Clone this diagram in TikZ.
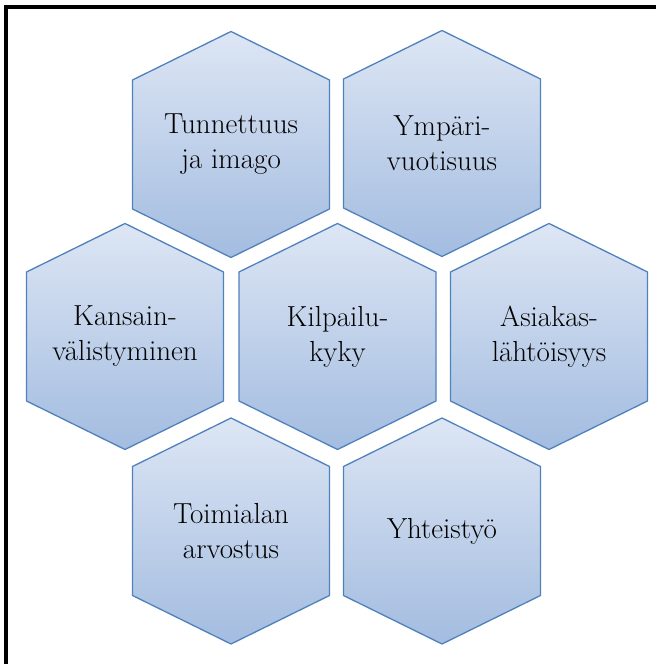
\documentclass[tikz,border=0pt]{standalone}
\usepackage{fontspec}
\definecolor{hexTop}{HTML}{DDE6F4}
\definecolor{hexBot}{HTML}{A3BCE0}
\definecolor{hexLine}{HTML}{4F81BD}
\tikzset{
  hexshape/.style={top color=hexTop, bottom color=hexBot, draw=hexLine, line width=1.3pt, line join=miter},
  hexlabel/.style={align=center, font=\fontsize{29}{35}\selectfont, text=black, inner sep=0pt},
  framestyle/.style={draw=black, line width=4pt, line join=miter}
}
\newcommand{\hexcell}[4]{%
  \path[hexshape] (#1,#2+113) -- (#1+98.5,#2+64.5) -- (#1+98.5,#2-64.5) -- (#1,#2-113) -- (#1-98.5,#2-64.5) -- (#1-98.5,#2+64.5) -- cycle;
  \node[hexlabel] (#3) at (#1,#2) {#4};
}
\begin{document}
\begin{tikzpicture}[x=1pt,y=1pt]
\useasboundingbox (0,0) rectangle (656,664);
\fill[white] (0,0) rectangle (656,664);
\draw[framestyle] (6,0) -- (6,657) -- (656,657);
% top row
\hexcell{231}{519.5}{tunn}{Tunnettuus\\ja imago}
\hexcell{442}{520.5}{ymp}{Ympäri-\\vuotisuus}
% middle row
\hexcell{125}{327.5}{kans}{Kansain-\\välistyminen}
\hexcell{337.5}{327.5}{kilp}{Kilpailu-\\kyky}
\hexcell{549}{327.5}{asia}{Asiakas-\\lähtöisyys}
% bottom row
\hexcell{231}{133}{toim}{Toimialan\\arvostus}
\hexcell{442}{133}{yhte}{Yhteistyö}
\end{tikzpicture}
\end{document}
